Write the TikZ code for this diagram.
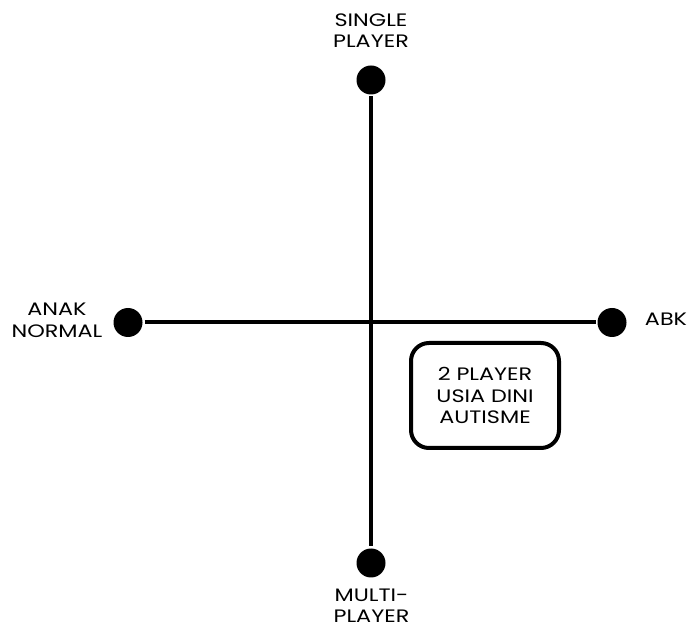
\documentclass[tikz,border=0pt]{standalone}
\usepackage{fontspec}
\setmainfont{Poppins}[FakeStretch=1.24]

\begin{document}
\begin{tikzpicture}[x=1pt,y=-1pt,
  line width=4pt,
  dot/.style={circle,fill=black,inner sep=0pt,minimum size=29pt},
  axis label/.style={align=center,inner sep=0pt,font=\fontsize{18}{21.5}\selectfont},
  quadrant/.style={draw,rounded corners=18pt,minimum width=148pt,minimum height=105pt,
    align=center,font=\fontsize{18}{21.5}\selectfont}]

  \useasboundingbox (0,0) rectangle (689,628);

  % ends of the two axes
  \node[dot] (single) at (371,80) {};
  \node[dot] (multi) at (371,563) {};
  \node[dot] (normal) at (128,322.5) {};
  \node[dot] (abk) at (612,322.5) {};

  \path
   (single) edge (multi)
   (normal) edge (abk);

  % axis labels
  \node[axis label] (singlelbl) at (371,30.5) {SINGLE\\PLAYER};
  \node[axis label] (multilbl) at (371.5,605.5) {MULTI-\\PLAYER};
  \node[axis label] (normallbl) at (57,320.5) {ANAK\\NORMAL};
  \node[axis label] (abklbl) at (666,319.5) {ABK};

  % target quadrant
  \node[quadrant] (target) at (485,395.5) {2 PLAYER\\USIA DINI\\AUTISME};
\end{tikzpicture}
\end{document}
